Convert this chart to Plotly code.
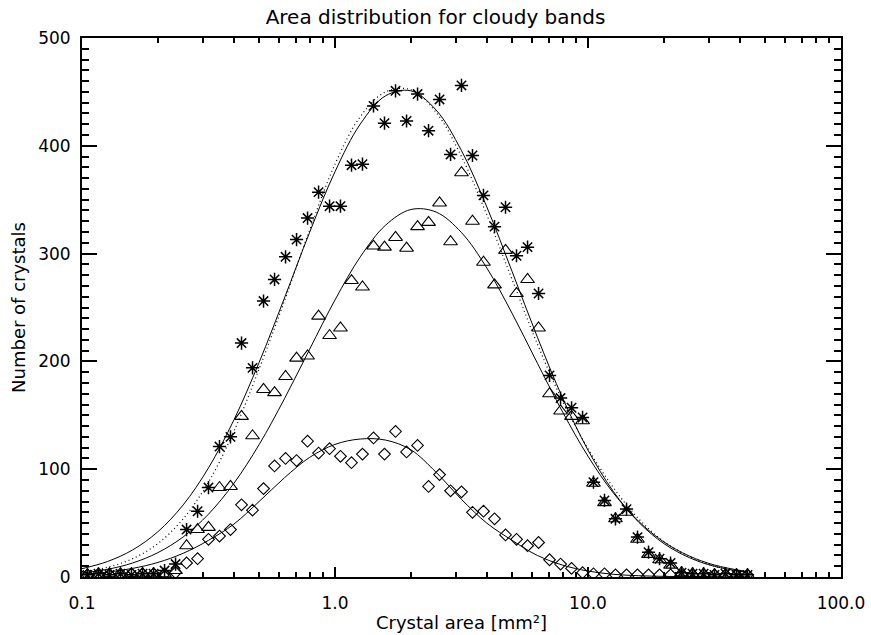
import plotly.graph_objects as go

# ---- data ----
x_bins = [0.1051, 0.1162, 0.1284, 0.1420, 0.1569, 0.1735, 0.1918, 0.2120, 0.2343, 0.2590,
          0.2863, 0.3162, 0.3495, 0.3863, 0.4271, 0.4721, 0.5218, 0.5768, 0.6376, 0.7047,
          0.7790, 0.8611, 0.9518, 1.051, 1.162, 1.284, 1.420, 1.569, 1.735, 1.918,
          2.120, 2.343, 2.590, 2.863, 3.162, 3.495, 3.863, 4.271, 4.721, 5.218,
          5.768, 6.376, 7.047, 7.790, 8.611, 9.518, 10.51, 11.62, 12.84, 14.20,
          15.69, 17.35, 19.18, 21.20, 23.43, 25.90, 28.63, 31.62, 34.95, 38.63, 42.71]

counts_star = [2, 3, 2, 3, 2, 3, 3, 6, 12, 44,
               61, 83, 121, 130, 217, 194, 256, 276, 297, 313,
               333, 357, 344, 344, 382, 383, 437, 421, 451, 423,
               448, 414, 443, 392, 456, 391, 354, 325, 343, 298,
               306, 263, 187, 166, 157, 148, 88, 71, 54, 63,
               37, 23, 17, 13, 4, 3, 3, 2, 3, 2, 2]

counts_tri = [2, 2, 3, 2, 3, 3, 3, 3, 6, 29,
              44, 46, 83, 84, 149, 131, 174, 171, 186, 203,
              205, 242, 224, 231, 275, 269, 307, 306, 315, 305,
              325, 329, 347, 311, 375, 330, 292, 271, 303, 263,
              276, 231, 170, 154, 149, 145, 87, 69, 54, 60,
              35, 21, 16, 11, 4, 3, 3, 2, 2, 2, 2]

counts_dia = [2, 3, 2, 3, 3, 3, 3, 3, 4, 13,
              17, 35, 38, 44, 67, 62, 82, 103, 110, 108,
              126, 115, 119, 112, 106, 114, 129, 114, 135, 116,
              122, 84, 95, 80, 79, 60, 61, 54, 39, 35,
              29, 32, 16, 12, 8, 4, 3, 3, 2, 2,
              2, 2, 2, 2, 2, 2, 2, 2, 2, 2, 2]

fit_x = [0.1, 0.1259, 0.1585, 0.1995, 0.2512, 0.3162, 0.3981, 0.5012, 0.631, 0.7943,
         1.0, 1.259, 1.585, 1.995, 2.512, 3.162, 3.981, 5.012, 6.31, 7.943,
         10.0, 12.59, 15.85, 19.95, 25.12, 31.62, 42.66]
fit_star = [7.7, 14.3, 25.1, 42.0, 66.9, 101.2, 145.5, 199.0, 258.7, 319.9,
            376.0, 420.2, 446.4, 451.0, 433.1, 395.5, 343.3, 283.4, 222.4, 165.9,
            117.7, 79.4, 50.9, 31.0, 18.0, 9.9, 4.2]
fit_star_alt = [5, 9, 17, 31, 54, 88, 135, 193, 256, 322,
                383, 427, 450, 452, 431, 390, 336, 276, 216, 163,
                119, 83, 54, 33, 19, 10, 4]
fit_tri = [3.7, 7.1, 13.0, 22.6, 37.2, 58.3, 86.8, 122.8, 165.3, 211.4,
           257.0, 297.0, 326.4, 340.9, 338.5, 319.5, 286.7, 244.6, 198.3, 152.9,
           112.0, 78.0, 51.7, 32.5, 19.5, 11.1, 4.9]
fit_dia = [2.4, 4.5, 8, 13.5, 22, 34, 49, 70, 92, 111,
           123, 128, 127, 118, 97, 72, 50, 34, 20, 11,
           5.5, 2.5, 1.2, 0.6, 0.3, 0.1, 0]

FONT = "DejaVu Sans, sans-serif"

fig = go.Figure()

line_style = dict(color="black", width=1, shape="spline")
fig.add_trace(go.Scatter(x=fit_x, y=fit_star_alt, mode="lines",
                         line=dict(color="black", width=1.2, dash="1px,3px", shape="spline"),
                         showlegend=False, hoverinfo="skip"))
for fy in (fit_star, fit_tri, fit_dia):
    fig.add_trace(go.Scatter(x=fit_x, y=fy, mode="lines", line=line_style,
                             showlegend=False, hoverinfo="skip"))

fig.add_trace(go.Scatter(x=x_bins, y=counts_star, mode="markers",
                         marker=dict(symbol="asterisk-open", size=11, color="black",
                                     line=dict(color="black", width=1.5)),
                         showlegend=False))
fig.add_trace(go.Scatter(x=x_bins, y=counts_tri, mode="markers",
                         marker=dict(symbol="triangle-up-open", size=12, color="black",
                                     line=dict(color="black", width=1.1)),
                         showlegend=False))
fig.add_trace(go.Scatter(x=x_bins, y=counts_dia, mode="markers",
                         marker=dict(symbol="diamond-open", size=9, color="black",
                                     line=dict(color="black", width=1.1)),
                         showlegend=False))

fig.update_layout(
    width=871, height=635,
    margin=dict(l=82, r=30, t=38, b=58, autoexpand=False),
    paper_bgcolor="white", plot_bgcolor="white",
    font=dict(family=FONT, size=17, color="black"),
    title=dict(text="Area distribution for cloudy bands", x=0.5, xref="container",
               y=1 - 17 / 635, yref="container", yanchor="middle", xanchor="center",
               font=dict(family=FONT, size=20, color="black")),
    showlegend=False,
)
fig.update_xaxes(
    type="log", range=[-1, 2], dtick=1, tickformat=".1f", automargin=False,
    showline=True, linecolor="black", linewidth=2, mirror="allticks",
    ticks="inside", ticklen=10, tickwidth=2, tickcolor="black",
    minor=dict(ticks="inside", ticklen=5, tickwidth=2, tickcolor="black", dtick="D1", showgrid=False),
    showgrid=False, zeroline=False,
    ticklabelstandoff=10,
    title=dict(text="Crystal area [mm²]", font=dict(family=FONT, size=18), standoff=4),
)
fig.update_yaxes(
    range=[0, 500], dtick=100, automargin=False,
    showline=True, linecolor="black", linewidth=2, mirror="allticks",
    ticks="inside", ticklen=15, tickwidth=2, tickcolor="black",
    minor=dict(ticks="inside", ticklen=7, tickwidth=2, tickcolor="black", dtick=10, showgrid=False),
    showgrid=False, zeroline=False,
    ticklabelstandoff=6,
    title=dict(text="Number of crystals", font=dict(family=FONT, size=18), standoff=8),
)

fig.write_html("out.html")
